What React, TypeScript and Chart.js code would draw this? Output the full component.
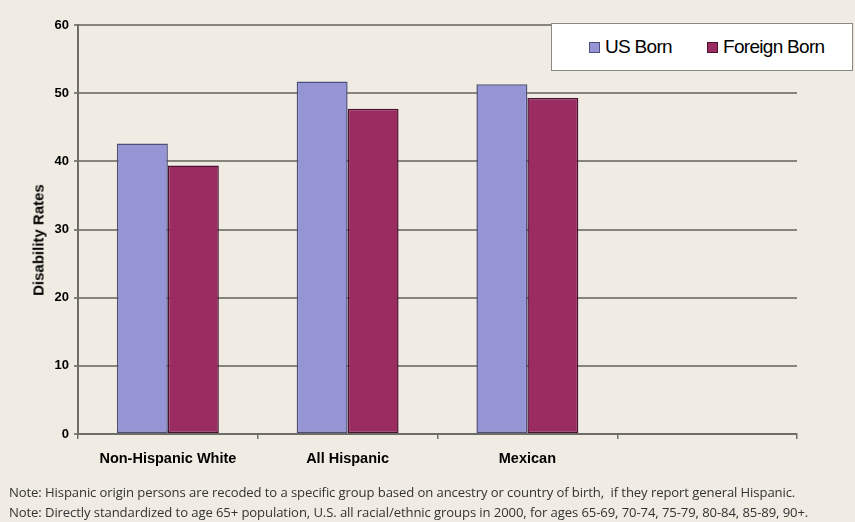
import React, { useEffect, useRef } from "react";
import { Chart, registerables } from "chart.js";

Chart.register(...registerables);

const categories = ["Non-Hispanic White", "All Hispanic", "Mexican", ""];
const usBorn = [42.6, 51.7, 51.3, null];
const foreignBorn = [39.4, 47.7, 49.3, null];
const seriesNames = ["US Born", "Foreign Born"];
const seriesColors = ["#9595D6", "#9A2C62"];
const seriesBorders = ["#4E4E7A", "#4A1230"];
const yTicks = [0, 10, 20, 30, 40, 50, 60];
const yTitle = "Disability Rates";
const notes = [
  "Note: Hispanic origin persons are recoded to a specific group based on ancestry or country of birth,  if they report general Hispanic.",
  "Note: Directly standardized to age 65+ population, U.S. all racial/ethnic groups in 2000, for ages 65-69, 70-74, 75-79, 80-84, 85-89, 90+.",
];

export default function App() {
  const ref = useRef<HTMLCanvasElement | null>(null);

  useEffect(() => {
    document.body.style.margin = "0";
    document.body.style.background = "#F0ECE3";
    const canvas = ref.current;
    if (!canvas) return;
    const chart = new Chart(canvas, {
      type: "bar",
      data: {
        labels: categories,
        datasets: seriesNames.map((name, i) => ({
          label: name,
          data: i === 0 ? usBorn : foreignBorn,
          backgroundColor: seriesColors[i],
          borderColor: seriesBorders[i],
          borderWidth: 1.5,
          borderSkipped: false,
          categoryPercentage: 0.567,
          barPercentage: 1,
        })),
      },
      options: {
        responsive: false,
        animation: false,
        layout: { padding: { left: 0, top: 25, right: 58, bottom: 0 } },
        plugins: {
          legend: { display: false },
          tooltip: { enabled: false },
        },
        scales: {
          x: {
            grid: {
              display: true,
              drawOnChartArea: false,
              drawTicks: true,
              tickLength: 5,
              color: "#6E6E68",
              lineWidth: 1.5,
              offset: true,
            },
            border: { display: true, color: "#6E6E68", width: 2 },
            ticks: {
              color: "#000",
              font: { family: "Liberation Sans, Arial, sans-serif", size: 14.5, weight: "bold" },
              padding: 11,
              maxRotation: 0,
              autoSkip: false,
            },
            afterFit: (scale: any) => {
              scale.height = 88;
            },
          },
          y: {
            min: 0,
            max: 60,
            afterBuildTicks: (scale: any) => {
              scale.ticks = yTicks.map((v) => ({ value: v }));
            },
            grid: {
              color: "#85857C",
              lineWidth: 2,
              tickLength: 4,
            },
            border: { display: true, color: "#6E6E68", width: 2 },
            ticks: {
              color: "#000",
              font: { family: "Liberation Sans, Arial, sans-serif", size: 13, weight: "bold" },
              padding: 5,
            },
            title: { display: false },
            afterFit: (scale: any) => {
              scale.width = 78;
            },
          },
        },
      },
    });
    return () => chart.destroy();
  }, []);

  return (
    <div style={{ position: "relative", width: 855, height: 522, background: "#F0ECE3", overflow: "hidden" }}>
      <canvas ref={ref} width={855} height={522} style={{ position: "absolute", left: 0, top: 0 }} />
      <div
        style={{
          position: "absolute",
          left: 38,
          top: 240,
          transform: "translate(-50%, -50%) rotate(-90deg)",
          fontFamily: "Liberation Sans, Arial, sans-serif",
          fontWeight: "bold",
          fontSize: 15,
          color: "#000",
          whiteSpace: "nowrap",
          lineHeight: 1,
        }}
      >
        {yTitle}
      </div>
      <div
        style={{
          position: "absolute",
          left: 551,
          top: 23,
          width: 300,
          height: 46,
          background: "#FFFFFF",
          border: "1px solid #8A8A84",
          fontFamily: "Liberation Sans, Arial, sans-serif",
          fontSize: 19,
          color: "#000",
          letterSpacing: -0.7,
        }}
      >
        {seriesNames.map((name, i) => (
          <div
            key={name}
            style={{ position: "absolute", left: i === 0 ? 37 : 155, top: 12, display: "flex", alignItems: "center", lineHeight: "22px" }}
          >
            <span
              style={{
                display: "inline-block",
                width: 9,
                height: 9,
                background: seriesColors[i],
                border: `1px solid ${seriesBorders[i]}`,
                marginRight: 5,
              }}
            />
            <span>{name}</span>
          </div>
        ))}
      </div>
      {notes.map((n, i) => (
        <div
          key={i}
          style={{
            position: "absolute",
            left: 9,
            top: 483 + i * 20,
            fontFamily: "Open Sans, Liberation Sans, sans-serif",
            fontSize: 13.1,
            color: "#333",
            whiteSpace: "pre",
            letterSpacing: -0.1,
            lineHeight: "18px",
          }}
        >
          {n}
        </div>
      ))}
    </div>
  );
}
